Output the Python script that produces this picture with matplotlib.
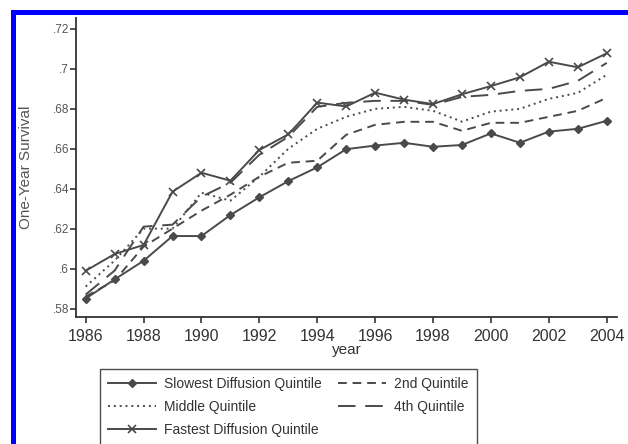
import numpy as np
import matplotlib
matplotlib.use("Agg")
import matplotlib.pyplot as plt
from matplotlib.patches import Rectangle

plt.rcParams['font.family'] = ['Liberation Sans', 'DejaVu Sans']

# data
years = list(range(1986, 2005))
slowest = [0.585, 0.5946, 0.6039, 0.6163, 0.6163, 0.6268, 0.6357, 0.6438, 0.6507, 0.6598,
           0.6616, 0.6630, 0.6610, 0.6619, 0.6677, 0.6630, 0.6686, 0.6700, 0.6740]
second = [0.586, 0.594, 0.611, 0.620, 0.629, 0.637, 0.646, 0.653, 0.654, 0.667,
          0.672, 0.6735, 0.6735, 0.669, 0.673, 0.673, 0.676, 0.679, 0.6855]
middle = [0.591, 0.604, 0.620, 0.620, 0.638, 0.634, 0.646, 0.660, 0.670, 0.676,
          0.680, 0.681, 0.679, 0.6736, 0.6786, 0.680, 0.685, 0.688, 0.697]
fourth = [0.587, 0.599, 0.621, 0.622, 0.636, 0.643, 0.657, 0.666, 0.681, 0.683,
          0.684, 0.684, 0.682, 0.686, 0.687, 0.689, 0.690, 0.694, 0.703]
fastest = [0.5989, 0.6073, 0.6118, 0.6385, 0.648, 0.644, 0.6594, 0.6672, 0.6831, 0.6812,
           0.6881, 0.6846, 0.6824, 0.6873, 0.6914, 0.6958, 0.7036, 0.7008, 0.7078]

series_labels = ["Slowest Diffusion Quintile", "2nd Quintile", "Middle Quintile",
                 "4th Quintile", "Fastest Diffusion Quintile"]
x_ticks = list(range(1986, 2005, 2))
y_ticks = [0.58, 0.60, 0.62, 0.64, 0.66, 0.68, 0.70, 0.72]
y_tick_labels = [".58", ".6", ".62", ".64", ".66", ".68", ".7", ".72"]

line_col = '#4a4a4a'
axis_col = '#333333'

fig = plt.figure(figsize=(6.28, 4.44), dpi=100)
ax = fig.add_axes([0.121, 0.2867, 0.9825 - 0.121, 0.9595 - 0.2867])

ax.plot(years, slowest, color=line_col, lw=1.4, marker='D', ms=4, label=series_labels[0])
ax.plot(years, second, color=line_col, lw=1.4, ls=(0, (4.5, 3)), label=series_labels[1])
ax.plot(years, middle, color=line_col, lw=1.4, ls=(0, (1, 2)), label=series_labels[2])
ax.plot(years, fourth, color=line_col, lw=1.4, ls=(0, (9, 5)), label=series_labels[3])
ax.plot(years, fastest, color=line_col, lw=1.4, marker='x', ms=6, mew=1.2, label=series_labels[4])

ax.set_xlim(1985.665, 2004.356)
ax.set_ylim(0.5759, 0.7255)
ax.set_xticks(x_ticks)
ax.set_yticks(y_ticks)
ax.set_yticklabels(y_tick_labels)

for side in ['top', 'right']:
    ax.spines[side].set_visible(False)
for side in ['left', 'bottom']:
    ax.spines[side].set_color(axis_col)
    ax.spines[side].set_linewidth(1.3)

ax.tick_params(axis='x', direction='out', length=4, width=1.2, color=axis_col,
               labelsize=11.5, labelcolor='#333333', pad=5)
ax.tick_params(axis='y', direction='out', length=4, width=1.2, color=axis_col,
               labelsize=8.5, labelcolor='#555555', pad=1)
ax.set_xlabel("year", fontsize=11, color='#333333', labelpad=-1)
ax.set_ylabel("One-Year Survival", fontsize=11, color='#555555', labelpad=14)

# legend in two columns below the axes
h, l = ax.get_legend_handles_labels()
order = [0, 2, 4, 1, 3]
leg = fig.legend([h[i] for i in order], [l[i] for i in order], ncol=2,
                 loc='upper left', bbox_to_anchor=(100 / 628, 1 - 369 / 444),
                 borderaxespad=0, fontsize=10, frameon=True, fancybox=False,
                 edgecolor='#222222', handlelength=3.4, numpoints=1, borderpad=0.6,
                 labelspacing=0.62, columnspacing=1.2, handletextpad=0.6)
leg.get_frame().set_linewidth(1.0)
for t in leg.get_texts():
    t.set_color('#333333')

# blue frame from the screenshot
fig.add_artist(Rectangle((12.5 / 628, -0.2), 1.5, 1.2 - 12.5 / 444,
                         transform=fig.transFigure, fill=False, ec='#0000ff',
                         lw=3.6, clip_on=False))

fig.savefig("out.png", dpi=100)
